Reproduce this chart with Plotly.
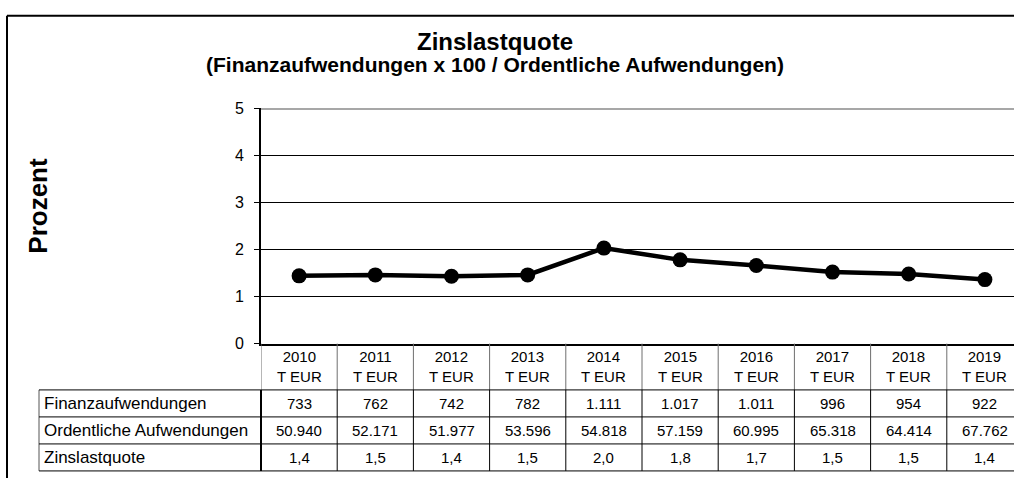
import plotly.graph_objects as go

# ---- data ----
years = [2010, 2011, 2012, 2013, 2014, 2015, 2016, 2017, 2018, 2019]
unit_label = "T EUR"
finanzaufwendungen = [733, 762, 742, 782, 1111, 1017, 1011, 996, 954, 922]
ordentliche_aufwendungen = [50940, 52171, 51977, 53596, 54818, 57159, 60995, 65318, 64414, 67762]
zinslastquote_table = [1.4, 1.5, 1.4, 1.5, 2.0, 1.8, 1.7, 1.5, 1.5, 1.4]
zinslastquote_line = [1.44, 1.46, 1.43, 1.46, 2.03, 1.78, 1.66, 1.52, 1.48, 1.36]
row_labels = ["Finanzaufwendungen", "Ordentliche Aufwendungen", "Zinslastquote"]
y_ticks = [0, 1, 2, 3, 4, 5]

title_text = "Zinslastquote"
subtitle_text = "(Finanzaufwendungen x 100 / Ordentliche Aufwendungen)"
y_title = "Prozent"

# ---- geometry helpers (pixel coords -> paper coords) ----
W, H = 1014, 478
FONT = "Liberation Sans, Arial, sans-serif"


def px(x):
    return x / W


def py(y):
    return 1 - y / H


def de_int(v):
    return f"{v:,}".replace(",", ".")


def de_dec(v):
    return f"{v:.1f}".replace(".", ",")


idx = list(range(len(years)))

fig = go.Figure()
fig.add_trace(go.Scatter(
    x=idx, y=zinslastquote_line, mode="lines+markers",
    line=dict(color="black", width=4.5),
    marker=dict(color="black", size=15, symbol="circle"),
    showlegend=False, hoverinfo="skip",
))

# plot area geometry (pixels); the last column runs past the right edge
plot_left, plot_right = 261, W
plot_top, plot_bottom = 104, 348
col_w = 76.2
x_max = -0.5 + (plot_right - plot_left) / col_w

fig.update_layout(
    width=W, height=H, autosize=False,
    margin=dict(l=0, r=0, t=0, b=0),
    paper_bgcolor="white", plot_bgcolor="white",
    font=dict(family=FONT, color="black", size=15),
    xaxis=dict(domain=[px(plot_left), 1], range=[-0.5, x_max],
               showgrid=False, zeroline=False, showticklabels=False,
               showline=True, linecolor="black", linewidth=2, ticks=""),
    yaxis=dict(domain=[py(plot_bottom), py(plot_top)], range=[0, 5],
               tickvals=y_ticks, showgrid=True, gridcolor="black", gridwidth=1,
               zeroline=False, showline=True, linecolor="black", linewidth=2,
               ticks="outside", ticklen=5, tickcolor="black", tickwidth=1,
               ticklabelstandoff=7,
               tickfont=dict(family=FONT, size=16, color="black")),
)

shapes = []
# outer frame (left and top visible)
shapes.append(dict(type="line", xref="paper", yref="paper", x0=px(7), x1=1.01,
                   y0=py(8), y1=py(8), line=dict(color="black", width=2)))
shapes.append(dict(type="line", xref="paper", yref="paper", x0=px(7), x1=px(7),
                   y0=py(8), y1=-0.02, line=dict(color="black", width=2)))
# top border of plot area (gray)
shapes.append(dict(type="line", xref="paper", yref="y", x0=px(plot_left), x1=1.01,
                   y0=5, y1=5, line=dict(color="#8a8a8a", width=3)))

# table geometry
header_top, header_bot = plot_bottom, 396
row_h = 28
rows_y = [header_bot + i * row_h for i in range(4)]  # 396, 424, 452, 480
label_left = 39

# header vertical lines (gray)
for i in range(len(years) + 1):
    shapes.append(dict(type="line", xref="x", yref="paper", x0=i - 0.5, x1=i - 0.5,
                       y0=py(header_top), y1=py(header_bot),
                       line=dict(color="#6e6e6e", width=1)))
# data-row vertical lines
for i in range(1, len(years) + 1):
    shapes.append(dict(type="line", xref="x", yref="paper", x0=i - 0.5, x1=i - 0.5,
                       y0=py(header_bot), y1=py(rows_y[-1]),
                       line=dict(color="black", width=1)))
shapes.append(dict(type="line", xref="paper", yref="paper", x0=px(plot_left), x1=px(plot_left),
                   y0=py(header_bot), y1=py(rows_y[-1]), line=dict(color="black", width=2)))
shapes.append(dict(type="line", xref="paper", yref="paper", x0=px(label_left), x1=px(label_left),
                   y0=py(header_bot), y1=py(rows_y[-1]), line=dict(color="#555555", width=1)))
# horizontal row lines
for yy in rows_y:
    shapes.append(dict(type="line", xref="paper", yref="paper", x0=px(label_left), x1=1.01,
                       y0=py(yy), y1=py(yy), line=dict(color="black", width=1)))
fig.update_layout(shapes=shapes)

ann = []
ann.append(dict(text=f"<b>{title_text}</b>", xref="paper", yref="paper", x=px(495), y=py(35),
                showarrow=False, font=dict(family=FONT, size=24, color="black"),
                xanchor="center", yanchor="middle"))
ann.append(dict(text=f"<b>{subtitle_text}</b>", xref="paper", yref="paper", x=px(495), y=py(59),
                showarrow=False, font=dict(family=FONT, size=21, color="black"),
                xanchor="center", yanchor="middle"))
ann.append(dict(text=f"<b>{y_title}</b>", xref="paper", yref="paper", x=px(38), y=py(205),
                showarrow=False, textangle=-90, font=dict(family=FONT, size=26, color="black"),
                xanchor="center", yanchor="middle"))

# header cells
for i, yr in enumerate(years):
    ann.append(dict(text=f"{yr}<br>{unit_label}", xref="x", yref="paper", x=i, y=py(372),
                    showarrow=False, font=dict(family=FONT, size=15, color="black"),
                    xanchor="center", yanchor="middle", align="center"))

row_values = [
    [de_int(v) for v in finanzaufwendungen],
    [de_int(v) for v in ordentliche_aufwendungen],
    [de_dec(v) for v in zinslastquote_table],
]
for r, (lab, vals) in enumerate(zip(row_labels, row_values)):
    yc = rows_y[r] + row_h / 2
    ann.append(dict(text=lab, xref="paper", yref="paper", x=px(42), y=py(yc),
                    showarrow=False, font=dict(family=FONT, size=17, color="black"),
                    xanchor="left", yanchor="middle"))
    for i, v in enumerate(vals):
        ann.append(dict(text=v, xref="x", yref="paper", x=i, y=py(yc),
                        showarrow=False, font=dict(family=FONT, size=15, color="black"),
                        xanchor="center", yanchor="middle"))
fig.update_layout(annotations=ann)

# place the figure at the page origin so it fills the window exactly
fig.write_html("out.html", config={"displayModeBar": False},
               post_script="document.body.style.margin='0px';")
